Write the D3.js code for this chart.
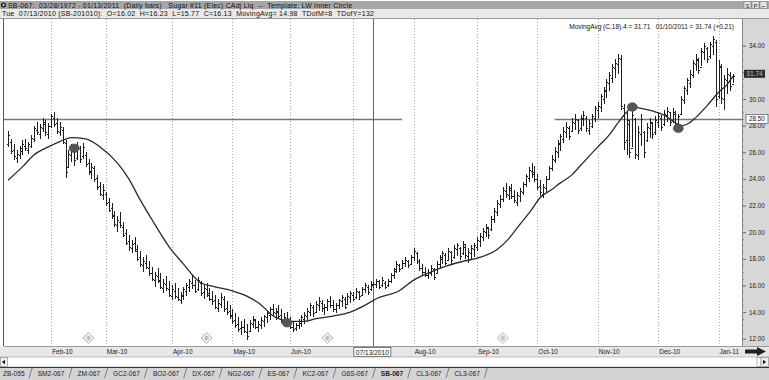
<!DOCTYPE html>
<html><head><meta charset="utf-8">
<script src="https://cdn.jsdelivr.net/npm/d3@7"></script>
<style>body{margin:0;background:#fff;overflow:hidden}svg{display:block;font-family:Arial,"Liberation Sans",sans-serif}</style>
</head><body><svg id="c" width="769" height="380"></svg>
<script>
// ---------- data ----------
const high = [27.6,27.0,26.6,26.2,26.5,26.9,27.0,26.8,27.3,28.0,28.3,28.1,28.6,28.4,28.2,
28.9,29.0,28.6,28.3,27.9,26.9,26.2,26.6,26.4,26.8,26.5,26.7,26.0,25.5,25.2,25.0,24.3,23.8,23.6,
23.0,22.6,22.2,21.6,21.2,21.5,20.8,20.2,19.8,19.4,19.6,19.0,18.6,18.1,18.3,17.8,17.4,17.0,17.3,16.9,16.5,16.7,16.3,
16.0,16.2,15.8,15.5,15.9,16.2,16.5,16.8,16.4,16.6,16.3,16.0,16.2,15.8,15.6,15.3,15.0,15.4,15.2,14.8,14.5,
14.2,13.9,13.6,13.3,13.5,13.1,13.4,13.7,13.5,13.3,13.6,13.8,14.1,14.4,14.6,14.3,14.5,14.2,13.9,14.0,
13.6,13.3,13.2,13.5,13.8,14.0,14.3,14.7,14.5,14.8,15.1,14.9,14.6,15.0,15.2,14.9,14.7,15.0,15.3,15.1,15.4,15.6,
15.5,15.8,15.6,15.9,16.2,16.0,16.3,16.23,16.5,16.4,16.6,16.3,16.5,16.9,17.3,17.8,17.6,17.9,18.1,17.9,18.3,
18.8,18.5,18.0,17.6,17.4,17.2,17.5,17.3,17.8,18.3,18.6,18.4,18.8,18.6,19.0,19.2,18.9,19.3,19.1,18.8,19.0,19.2,
19.6,19.9,20.3,20.6,20.4,21.2,21.8,22.4,22.8,23.4,23.7,23.5,23.6,23.2,23.0,23.3,23.8,24.4,24.9,25.2,25.0,
24.4,23.9,23.6,24.2,25.0,25.8,26.4,26.9,27.4,27.9,28.3,28.0,28.6,28.9,28.5,28.8,29.1,28.7,28.4,28.9,29.5,
29.8,30.4,30.9,31.5,32.0,32.6,33.0,33.4,33.3,29.6,29.0,28.4,29.2,28.6,28.0,28.9,27.6,28.2,28.6,28.3,28.7,
29.0,28.8,29.2,29.4,29.0,29.3,29.1,28.9,30.2,31.0,31.6,32.2,32.9,33.4,33.1,33.8,34.2,33.9,34.3,34.7,34.4,
32.9,32.6,31.8,32.3,32.0,31.9];
const low = [26.4,25.9,25.4,25.2,25.5,25.8,26.1,25.9,26.3,26.8,27.3,27.0,27.5,27.2,27.0,
27.8,27.9,27.4,27.2,26.6,24.1,24.8,25.3,25.0,25.4,25.2,25.5,24.9,24.3,24.0,23.8,23.2,22.7,22.4,
22.0,21.5,21.0,20.4,20.0,20.3,19.6,19.0,18.6,18.4,18.5,17.8,17.4,17.0,17.2,16.7,16.3,15.9,16.2,15.7,15.4,15.6,15.1,
14.9,15.0,14.8,14.6,14.9,15.2,15.5,15.7,15.4,15.6,15.2,15.0,15.1,14.8,14.5,14.2,14.0,14.3,14.0,13.8,13.5,
13.1,12.8,12.5,12.3,12.4,11.9,12.5,12.8,12.7,12.5,12.7,12.9,13.2,13.4,13.6,13.4,13.5,13.2,13.0,13.1,
12.7,12.5,12.6,12.7,12.9,13.1,13.4,13.7,13.6,13.9,14.1,14.0,13.8,14.1,14.3,14.0,13.9,14.2,14.4,14.2,14.5,14.7,
14.8,15.0,14.9,15.2,15.4,15.3,15.6,15.77,15.8,15.7,15.9,15.7,15.9,16.2,16.5,16.9,17.0,17.2,17.4,17.3,17.5,
17.8,17.6,17.1,16.8,16.6,16.5,16.7,16.4,16.9,17.3,17.6,17.5,17.8,17.6,18.0,18.2,17.9,18.3,18.0,17.7,18.0,18.1,
18.6,18.9,19.3,19.6,19.5,20.1,20.7,21.2,21.8,22.3,22.6,22.4,22.5,22.2,22.0,22.3,22.8,23.4,23.8,24.1,23.8,
23.2,22.7,22.6,23.0,23.9,24.6,25.2,25.6,26.1,26.7,27.1,26.9,27.5,27.7,27.4,27.6,28.0,27.5,27.3,27.8,28.3,
28.6,29.0,29.6,30.1,30.6,31.2,31.6,31.9,29.2,26.2,25.8,25.6,26.4,25.5,25.4,26.5,25.6,26.8,27.1,27.0,27.3,
27.8,27.6,28.0,28.3,28.0,28.2,27.9,27.8,28.8,29.6,30.3,30.8,31.6,32.1,31.9,32.5,32.9,32.7,33.0,33.3,29.4,
30.0,29.6,29.2,30.4,30.6,31.2];
const open = [26.6,26.8,26.2,25.6,25.8,26.1,26.5,26.2,26.5,27.0,27.7,27.4,27.8,28.1,27.4,
28.0,28.6,28.2,27.5,27.7,26.7,24.9,25.8,26.1,25.6,26.3,25.7,25.8,25.2,24.5,24.8,24.1,23.5,22.8,
22.9,22.3,21.8,21.2,20.5,20.8,20.4,19.9,19.3,18.8,19.2,18.6,18.1,17.5,17.7,17.3,16.9,16.4,16.7,16.3,15.8,16.1,15.7,
15.2,15.6,15.1,14.9,15.2,15.6,15.9,16.2,16.0,15.7,16.2,15.5,15.7,15.4,15.0,14.9,14.3,14.6,15.0,14.3,14.1,
13.8,13.4,13.1,12.8,12.9,12.5,12.6,13.1,13.4,12.9,13.0,13.3,13.6,13.8,14.2,13.9,14.0,13.8,13.3,13.5,
13.3,12.9,12.8,13.0,13.2,13.5,13.7,14.0,14.4,14.0,14.5,14.7,14.3,14.4,14.8,14.5,14.2,14.5,14.8,15.0,14.6,15.1,
15.3,15.1,15.5,15.3,15.7,15.9,15.7,16.02,16.1,16.3,16.0,16.2,16.0,16.3,16.8,17.2,17.5,17.3,17.7,17.8,17.6,
18.1,18.4,17.8,17.3,17.0,16.8,16.9,17.2,16.9,17.6,18.0,18.3,17.9,18.5,18.1,18.7,18.8,18.4,18.9,18.2,18.4,18.7,
18.9,19.3,19.6,20.0,20.3,20.2,21.0,21.5,22.1,22.5,23.1,22.8,23.2,22.7,22.3,22.7,23.0,23.6,24.1,24.6,24.5,
24.0,23.5,22.9,23.3,24.0,24.8,25.4,26.0,26.6,27.0,27.5,27.8,27.6,28.2,28.4,27.8,28.5,28.6,27.7,28.0,28.6,
29.2,29.4,30.0,30.6,31.2,31.6,32.3,32.6,33.0,29.3,26.9,28.1,26.3,28.5,25.8,27.4,27.5,26.9,27.8,28.2,27.5,
28.3,28.6,28.1,28.8,29.0,28.4,28.9,28.1,28.9,29.9,30.7,31.2,31.8,32.6,32.9,32.4,33.5,33.8,33.2,34.0,34.3,
30.2,32.4,30.0,31.4,31.8,31.1];
const close = [27.3,26.1,25.7,25.9,26.3,26.6,26.3,26.6,27.1,27.8,27.5,27.9,28.3,27.5,28.0,
28.7,28.1,27.6,27.9,26.8,24.5,25.9,26.2,25.4,26.5,25.5,26.4,25.1,24.6,24.9,24.0,23.4,22.9,23.2,
22.2,21.7,21.3,20.6,20.9,20.5,19.8,19.2,18.9,19.1,18.7,18.0,17.6,17.8,17.4,16.9,16.5,16.8,16.4,15.9,16.2,15.8,15.3,
15.7,15.2,15.0,15.3,15.7,16.0,16.3,16.0,15.6,16.4,15.4,15.8,15.3,15.0,14.8,14.4,14.7,15.1,14.2,14.0,13.7,
13.3,13.0,12.7,12.9,12.6,12.2,13.2,13.5,12.9,13.1,13.4,13.7,13.9,14.2,14.0,14.1,13.7,13.4,13.6,13.3,
12.9,12.7,13.0,13.3,13.6,13.8,14.1,14.5,13.9,14.6,14.8,14.3,14.4,14.8,14.5,14.2,14.5,14.9,15.1,14.4,15.2,15.4,
15.0,15.6,15.2,15.7,16.0,15.5,16.1,16.13,16.3,15.9,16.4,15.9,16.3,16.8,17.1,17.6,17.2,17.7,17.9,17.5,18.1,
18.6,17.8,17.3,17.0,16.8,17.0,17.3,16.6,17.6,18.1,18.4,17.7,18.6,17.9,18.8,19.0,18.2,19.1,18.3,18.5,18.8,19.0,
19.4,19.7,20.1,20.4,19.8,21.0,21.6,22.2,22.5,23.2,22.9,23.3,22.7,22.4,22.8,23.1,23.6,24.2,24.7,24.4,24.0,
23.4,23.0,23.4,24.0,24.8,25.5,26.1,26.7,27.2,27.6,27.9,27.2,28.3,28.5,27.7,28.6,28.8,27.8,28.2,28.7,29.3,
29.5,30.2,30.7,31.3,31.8,32.4,32.7,33.1,29.5,26.8,28.4,26.0,28.8,25.9,27.5,28.5,26.0,27.9,28.3,27.4,28.4,
28.7,27.9,28.9,29.1,28.3,29.0,28.2,28.7,30.0,30.8,31.4,31.9,32.7,33.0,32.2,33.6,34.0,33.0,34.1,34.5,30.0,
32.5,30.1,31.5,31.9,31.0,31.74];

// moving average (C,18) displaced 4
const maIdx = [0,5,9,14,18,22,27,32,38,42,46,51,56,61,67,72,78,83,87,93,99,103,107,113,119,124,128,136,141,147,153,158,164,170,174,178,182,185,189,192,196,199,205,209,212,215,217,220,224,228,232,234,236,239,243,247,250,252];
const maVal = [23.9,24.9,25.8,26.4,26.8,27.1,27.0,26.4,25.2,24.0,22.4,20.6,18.9,17.6,16.2,15.9,15.6,15.2,14.7,13.6,13.3,13.3,13.5,13.7,14.0,14.5,15.0,15.6,16.4,17.0,17.5,17.8,18.1,18.7,19.5,20.6,21.7,22.6,23.2,23.7,24.3,25.0,26.4,27.3,28.2,29.0,29.4,29.3,29.1,28.8,28.2,28.0,28.1,28.6,29.5,30.5,31.1,31.71];

const monthLabels = ["Feb-10","Mar-10","Apr-10","May-10","Jun-10","Jul-10","Aug-10","Sep-10","Oct-10","Nov-10","Dec-10","Jan-11"];
const monthStart  = [15,34,57,78,98,120,141,163,184,205,226,247];
const yTicks = [12,14,16,18,20,22,24,26,28,30,32,34];

const markIdx = [23,97,217,233];
const markVal = [26.3,13.2,29.4,27.8];
const diamondIdx = [28,69,111,172];
const levelVal = [28.5,28.5];
const levelFrom = [0,190];
const levelTo = [137,252];
const cursorIdx = 127;
const cursorLabel = "07/13/2010";
const lastClose = 31.74;
const tabs = ["ZB-055","SM2-067","ZM-067","GC2-067","BO2-067","DX-067","NG2-067","ES-067","KC2-067","G6S-067","SB-067","CL3-067","CL3-067"];
const activeTab = "SB-067";
const titleText = "SB-067:  03/28/1972 - 01/13/2011  (Daily bars)   Sugar #11 (Elec) CAdj Liq  --  Template: LW Inner Circle";
const infoText = "Tue  07/13/2010 (SB-201010):  O=16.02  H=16.23  L=15.77  C=16.13  MovingAvg= 14.98  TDofM=8  TDofY=132";
const legendText = "MovingAvg (C,18).4 = 31.71   01/10/2011 = 31.74 (+0.21)";

// ---------- layout ----------
const W = 769, H = 380;
const PL = 4, PR = 742, PT = 19, PB = 346;
const N = high.length;
const svg = d3.select("#c");

const x = d3.scaleLinear().domain([0, N - 1]).range([8, 733]);
const y = d3.scaleLinear().domain([12, 34]).range([338.7, 45.7]);

// header
svg.append("rect").attr("x",0).attr("y",0).attr("width",W).attr("height",H).attr("fill","#fff");
svg.append("rect").attr("x",0).attr("y",1).attr("width",W).attr("height",8).attr("fill","#a6a6a6");
svg.append("rect").attr("x",0).attr("y",9).attr("width",W).attr("height",9).attr("fill","#e9e9e9");
svg.append("line").attr("x1",0).attr("x2",W).attr("y1",18.5).attr("y2",18.5).attr("stroke","#999");
svg.append("circle").attr("cx",3.5).attr("cy",5).attr("r",2.6).attr("fill","#222");
svg.append("circle").attr("cx",3.5).attr("cy",5).attr("r",1.2).attr("fill","#bbb");
svg.append("text").attr("x",8).attr("y",7.8).attr("font-size",6.9).attr("fill","#111")
  .attr("textLength",344).attr("lengthAdjust","spacing").style("white-space","pre").text(titleText);
svg.append("text").attr("x",2).attr("y",16.4).attr("font-size",7).attr("fill","#111")
  .attr("textLength",372).attr("lengthAdjust","spacing").style("white-space","pre").text(infoText);
["S","P","\u2310"].forEach((t,k)=>{
  svg.append("rect").attr("x",744+k*8).attr("y",1.5).attr("width",7).attr("height",7).attr("fill","#e6e6e6").attr("stroke","#777").attr("stroke-width",0.6);
  svg.append("text").attr("x",747.5+k*8).attr("y",7.5).attr("font-size",6).attr("text-anchor","middle").attr("fill","#222").text(t);
});

// plot area
svg.append("rect").attr("x",PL).attr("y",PT).attr("width",PR-PL).attr("height",PB-PT).attr("fill","#fff");
// right axis background
svg.append("rect").attr("x",PR).attr("y",PT).attr("width",W-PR).attr("height",PB-PT).attr("fill","#d7d7d7");

// month gridlines
svg.append("g").selectAll("line").data(monthStart).join("line")
  .attr("x1",d=>Math.round(x(d))+0.5).attr("x2",d=>Math.round(x(d))+0.5)
  .attr("y1",PT).attr("y2",PB)
  .attr("stroke","#aaa").attr("stroke-width",1).attr("stroke-dasharray","1,2");

// level lines
svg.append("g").selectAll("line").data(levelVal).join("line")
  .attr("x1",(d,i)=>i===0?PL:x(levelFrom[i])).attr("x2",(d,i)=>i===1?PR:x(levelTo[i]))
  .attr("y1",d=>Math.round(y(d))+0.5).attr("y2",d=>Math.round(y(d))+0.5)
  .attr("stroke","#777").attr("stroke-width",1.3);

// cursor line
svg.append("line").attr("x1",Math.round(x(cursorIdx))+0.5).attr("x2",Math.round(x(cursorIdx))+0.5)
  .attr("y1",PT).attr("y2",PB).attr("stroke","#666").attr("stroke-width",1);

// bars
const bars = svg.append("g").attr("stroke","#1e1e1e").attr("stroke-width",1).attr("fill","none").attr("shape-rendering","crispEdges");
bars.selectAll("path").data(d3.range(N)).join("path")
  .attr("d", i => {
    const cx = Math.round(x(i)) + 0.5;
    return `M${cx},${y(high[i])}V${y(low[i])}M${cx-1.5},${Math.round(y(open[i]))+0.5}H${cx}M${cx},${Math.round(y(close[i]))+0.5}H${cx+1.5}`;
  });

// moving average
const maData = maIdx.map((d,k)=>({i:d, v:maVal[k]}));
svg.append("path").datum(maData)
  .attr("d", d3.line().x(d=>x(d.i)).y(d=>y(d.v)).curve(d3.curveMonotoneX))
  .attr("fill","none").attr("stroke","#2a2a2a").attr("stroke-width",1.3);

// markers
svg.append("g").selectAll("ellipse").data(markIdx).join("ellipse")
  .attr("cx",d=>x(d)).attr("cy",(d,k)=>y(markVal[k])).attr("rx",5).attr("ry",4.3)
  .attr("fill","#555").attr("stroke","#444").attr("stroke-width",0.6);

// diamonds near the bottom
const dg = svg.append("g").selectAll("g").data(diamondIdx).join("g")
  .attr("transform",d=>`translate(${x(d)},${PB-8})`);
dg.append("path").attr("d","M0,-5.5L5.5,0L0,5.5L-5.5,0Z").attr("fill","#f4f4f4").attr("stroke","#aaa").attr("stroke-width",0.9);
dg.append("path").attr("d","M-2,0H2M0,-2V2").attr("stroke","#aaa").attr("stroke-width",0.8);
dg.append("circle").attr("r",2).attr("fill","none").attr("stroke","#aaa").attr("stroke-width",0.6);

// legend
svg.append("text").attr("x",734).attr("y",29).attr("text-anchor","end").attr("font-size",6.5).attr("fill","#111")
  .style("white-space","pre").text(legendText);

// plot borders
svg.append("line").attr("x1",PR+0.5).attr("x2",PR+0.5).attr("y1",PT).attr("y2",PB).attr("stroke","#888");
svg.append("line").attr("x1",PL-0.5).attr("x2",PL-0.5).attr("y1",PT).attr("y2",PB+11).attr("stroke","#555");

// right axis (the 32.00 label sits under the last-close box, so only its tick is drawn)
const ax = svg.append("g").attr("transform",`translate(${PR},0)`)
  .call(d3.axisRight(y).tickValues(yTicks).tickFormat(d=>Math.abs(y(d)-y(lastClose))<6?"":d3.format(".2f")(d)).tickSize(4).tickPadding(3));
ax.select(".domain").remove();
ax.selectAll("line").attr("stroke","#666");
ax.selectAll("text").attr("font-size",6.3).attr("fill","#222").attr("font-family","Arial, Liberation Sans, sans-serif");
// minor ticks
svg.append("g").selectAll("line").data(d3.range(12,34.01,0.5)).join("line")
  .attr("x1",PR).attr("x2",PR+2).attr("y1",d=>Math.round(y(d))+0.5).attr("y2",d=>Math.round(y(d))+0.5)
  .attr("stroke","#888").attr("stroke-width",0.8);

// level label box on axis
svg.append("rect").attr("x",PR+4).attr("y",y(28.5)-4.5).attr("width",22).attr("height",9)
  .attr("fill","#fff").attr("stroke","#555").attr("stroke-width",0.7);
svg.append("text").attr("x",PR+15).attr("y",y(28.5)+2.3).attr("text-anchor","middle").attr("font-size",6.3).attr("fill","#111").text(d3.format(".2f")(levelVal[0]));
// last close box
svg.append("rect").attr("x",PR+2).attr("y",y(lastClose)-6).attr("width",21).attr("height",8)
  .attr("fill","#2a2a2a");
svg.append("text").attr("x",PR+12.5).attr("y",y(lastClose)+0.4).attr("text-anchor","middle").attr("font-size",6.5).attr("font-weight","bold").attr("fill","#9a9a9a").text(d3.format(".2f")(lastClose));

// x axis strip
svg.append("rect").attr("x",0).attr("y",PB).attr("width",W).attr("height",11).attr("fill","#e7e7e7");
svg.append("line").attr("x1",PL).attr("x2",W).attr("y1",PB+0.5).attr("y2",PB+0.5).attr("stroke","#999");
svg.append("g").selectAll("text").data(monthLabels).join("text")
  .filter((d,k)=>d!=="Jul-10")
  .attr("x",(d)=>x(monthStart[monthLabels.indexOf(d)])+1).attr("y",PB+8.2)
  .attr("font-size",6.5).attr("fill","#222").text(d=>d);
// cursor date box
const cx0 = x(cursorIdx);
svg.append("rect").attr("x",cx0-19.5).attr("y",PB+1.5).attr("width",37).attr("height",9).attr("fill","#fff").attr("stroke","#444").attr("stroke-width",0.7);
svg.append("text").attr("x",cx0-1).attr("y",PB+8.6).attr("text-anchor","middle").attr("font-size",6.6).attr("fill","#111").text(cursorLabel);
// arrow
svg.append("path").attr("d",`M${PR+3},${PB+3.5}H${PR+15}V${PB+1}L${PR+24},${PB+5.5}L${PR+15},${PB+10}V${PB+7.5}H${PR+3}Z`).attr("fill","#222");

// scrollbar
svg.append("rect").attr("x",0).attr("y",PB+11).attr("width",W).attr("height",10).attr("fill","#fff").attr("stroke","#999").attr("stroke-width",0.6);
svg.append("rect").attr("x",0.5).attr("y",PB+11.5).attr("width",7).attr("height",9).attr("fill","#eee").attr("stroke","#888").attr("stroke-width",0.6);
svg.append("path").attr("d",`M2,${PB+16}L5,${PB+13.8}V${PB+18.2}Z`).attr("fill","#111");
svg.append("rect").attr("x",757).attr("y",PB+11.5).attr("width",4).attr("height",9).attr("fill","#fff").attr("stroke","#888").attr("stroke-width",0.6);
svg.append("rect").attr("x",761).attr("y",PB+11.5).attr("width",7.5).attr("height",9).attr("fill","#eee").attr("stroke","#888").attr("stroke-width",0.6);
svg.append("path").attr("d",`M766,${PB+16}L763,${PB+13.8}V${PB+18.2}Z`).attr("fill","#111");

// tab strip
const TT = PB + 21;
svg.append("rect").attr("x",0).attr("y",TT).attr("width",W).attr("height",H-TT).attr("fill","#d4d4d4");
svg.append("line").attr("x1",0).attr("x2",W).attr("y1",TT+0.5).attr("y2",TT+0.5).attr("stroke","#333").attr("stroke-width",1);
let tx = 3;
tabs.forEach(t=>{
  const tEl = svg.append("text").attr("x",tx).attr("y",TT+8.5).attr("font-size",6.6)
    .attr("font-weight", t===activeTab?"bold":"normal").attr("fill","#222").text(t);
  const w = tEl.node().getComputedTextLength();
  const sx = tx + w + 6;
  svg.append("line").attr("x1",sx-1.5).attr("x2",sx+1.5).attr("y1",TT+11).attr("y2",TT+1).attr("stroke","#555").attr("stroke-width",0.7);
  tx = sx + 7;
});
</script></body></html>
